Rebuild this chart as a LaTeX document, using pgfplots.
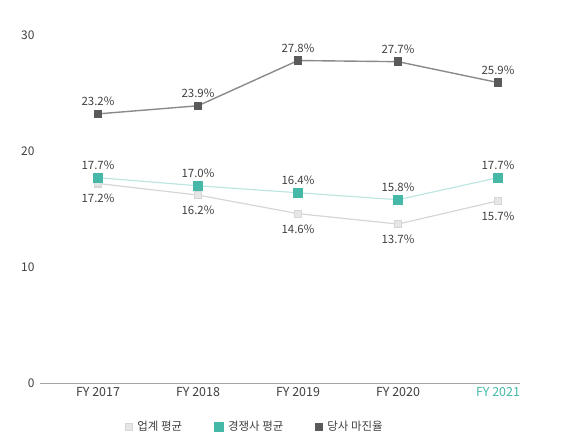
\documentclass[border=0pt]{standalone}
\usepackage{pgfplots}
\pgfplotsset{compat=1.18}
\usepackage{fontspec}
\setmainfont{Noto Sans CJK KR}
\definecolor{tealc}{HTML}{45B8A8}
\definecolor{lightc}{HTML}{D6D6D6}
\definecolor{darkc}{HTML}{8A8A8A}
\definecolor{darkm}{HTML}{5A5A5A}
\definecolor{txt}{HTML}{404040}
\pgfplotsset{markonly legend/.style={legend image code/.code={\draw[##1, only marks] plot coordinates {(0.2cm,0cm)};}}}
\begin{document}
\begin{tikzpicture}
\path[use as bounding box] (0,0) rectangle (564bp,443bp);
\begin{axis}[
  at={(40bp,60bp)}, anchor=south west,
  scale only axis, width=480bp, height=348bp,
  xmin=-0.58, xmax=4.22, ymin=0, ymax=30,
  axis x line=bottom, axis y line=none,
  x axis line style={draw=gray!70, line width=0.8pt, -},
  xtick={0,1,2,3,4},
  xticklabels={FY 2017, FY 2018, FY 2019, FY 2020, \textcolor{tealc}{FY 2021}},
  xticklabel style={font=\fontsize{12.5}{14}\selectfont, text=txt, yshift=-1bp},
  major tick length=0pt,
  ytick=\empty,
  clip=false,
  /pgf/number format/assume math mode=true,
  legend style={at={(0.448,-0.126)}, anchor=center, draw=none, fill=none,
    legend columns=3, font=\fontsize{11.5}{13}\selectfont, text=txt,
    /tikz/every odd column/.append style={column sep=3bp},
    /tikz/every even column/.append style={column sep=30bp}},
  legend cell align=left,
  markonly legend,
  nodes near coords style={font=\fontsize{11.5}{13}\selectfont, text=txt},
]
\node[font=\fontsize{12}{14}\selectfont, text=txt, anchor=east] at (axis cs:-0.6,0) {0};
\node[font=\fontsize{12}{14}\selectfont, text=txt, anchor=east] at (axis cs:-0.6,10) {10};
\node[font=\fontsize{12}{14}\selectfont, text=txt, anchor=east] at (axis cs:-0.6,20) {20};
\node[font=\fontsize{12}{14}\selectfont, text=txt, anchor=east] at (axis cs:-0.6,30) {30};

\addplot[color=lightc, line width=1.2pt, mark=square*, mark size=3.5bp,
  mark options={fill=lightc!60, draw=lightc},
  nodes near coords={\pgfmathprintnumber[fixed,precision=1,fixed zerofill]{\pgfplotspointmeta}\%},
  every node near coord/.append style={anchor=north, yshift=-7bp}]
  coordinates {(0,17.2) (1,16.2) (2,14.6) (3,13.7) (4,15.7)};
\addlegendentry{업계 평균}

\addplot[color=tealc!35, line width=1.2pt, mark=square*, mark size=4.5bp,
  mark options={fill=tealc, draw=tealc},
  nodes near coords={\pgfmathprintnumber[fixed,precision=1,fixed zerofill]{\pgfplotspointmeta}\%},
  every node near coord/.append style={anchor=south, yshift=4bp}]
  coordinates {(0,17.7) (1,17.0) (2,16.4) (3,15.8) (4,17.7)};
\addlegendentry{경쟁사 평균}

\addplot[color=darkc, line width=1.4pt, mark=square*, mark size=3.5bp,
  mark options={fill=darkm, draw=darkm},
  nodes near coords={\pgfmathprintnumber[fixed,precision=1,fixed zerofill]{\pgfplotspointmeta}\%},
  every node near coord/.append style={anchor=south, yshift=4bp}]
  coordinates {(0,23.2) (1,23.9) (2,27.8) (3,27.7) (4,25.9)};
\addlegendentry{당사 마진율}
\end{axis}
\end{tikzpicture}
\end{document}
